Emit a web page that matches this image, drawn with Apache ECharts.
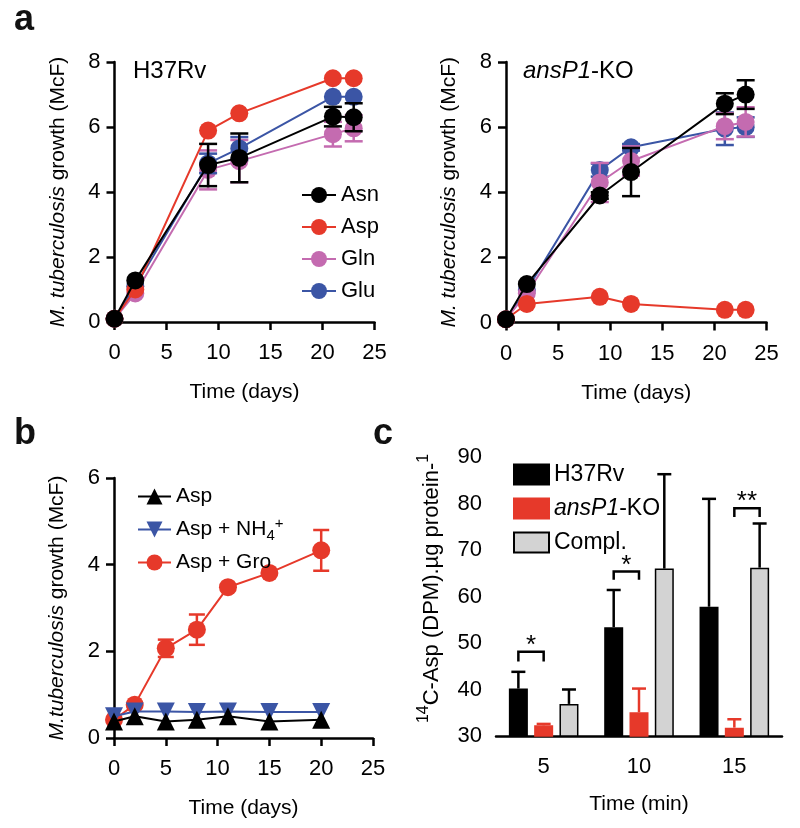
<!DOCTYPE html>
<html>
<head>
<meta charset="utf-8">
<script src="https://cdn.jsdelivr.net/npm/echarts@6/dist/echarts.min.js"></script>
<style>
  html, body { margin: 0; padding: 0; background: #fff; }
  #main { width: 800px; height: 828px; }
</style>
</head>
<body>
<div id="main"></div>
<script>
// ---- data ----
// panel a (growth on single N source), days
const daysA = [0, 2, 9, 12, 21, 23];
const wtAsn = [0.1, 1.28, 4.83, 5.05, 6.32, 6.3];
const wtAsnSd = [0, 0, 0.65, 0.75, 0.3, 0.43];
const wtAsp = [0.1, 1.0, 5.89, 6.42, 7.5, 7.5];
const wtAspSd = [0, 0, 0, 0, 0, 0];
const wtGln = [0.1, 0.88, 4.68, 4.95, 5.78, 5.96];
const wtGlnSd = [0, 0, 0.6, 0.65, 0.38, 0.4];
const wtGlu = [0.1, 1.1, 4.88, 5.34, 6.93, 6.93];
const wtGluSd = [0, 0, 0.3, 0.35, 0, 0];

const koAsn = [0.1, 1.18, 3.9, 4.62, 6.72, 7.0];
const koAsnSd = [0, 0, 0.1, 0.74, 0.32, 0.44];
const koAsp = [0.1, 0.57, 0.79, 0.57, 0.39, 0.39];
const koGln = [0.1, 0.9, 4.3, 4.96, 6.03, 6.16];
const koGlnSd = [0, 0, 0.6, 0.45, 0.4, 0.45];
const koGlu = [0.1, 1.0, 4.68, 5.38, 5.95, 6.0];
const koGluSd = [0, 0, 0.2, 0.1, 0.5, 0.3];

// panel b
const daysB = [0, 2, 5, 8, 11, 15, 20];
const bAsp = [0.38, 0.5, 0.38, 0.42, 0.5, 0.38, 0.42];
const bNh4 = [0.5, 0.61, 0.61, 0.6, 0.61, 0.6, 0.6];
const bGro = [0.42, 0.77, 2.07, 2.5, 3.48, 3.81, 4.33];
const bGroSd = [0, 0, 0.2, 0.35, 0, 0, 0.47];

// panel c (uptake), minutes
const minutes = ['5', '10', '15'];
const upH37 = [40.2, 53.4, 57.8];
const upH37Sd = [3.6, 8.0, 23.2];
const upKo = [32.3, 35.1, 31.8];
const upKoSd = [0.3, 5.1, 1.8];
const upCompl = [36.9, 66.0, 66.2];
const upComplSd = [3.1, 20.3, 9.5];
// [category, bracket top, leg end, from bar, to bar, text]
const brackets = [
  [0, 48.1, 46.0, 0, 1, '*'],
  [1, 65.4, 63.6, 0, 1, '*'],
  [2, 79.0, 77.1, 1, 2, '**']
];

const RED = '#e6392a', BLUE = '#3b55a5', PINK = '#c46bb0', GREY = '#d3d3d3';
const FONT = 'Liberation Sans, Arial, sans-serif';
const BAR_W = 19, BAR_GAP = 6.3;

const axisLine = { lineStyle: { color: '#000', width: 2.5 } };
const axisTick = { inside: false, length: 8, lineStyle: { color: '#000', width: 2.5 } };
const tickLabel = { color: '#000', fontSize: 22, fontFamily: FONT };

function timeAxis(gi, max, name) {
  return {
    type: 'value', gridIndex: gi, min: 0, max: max, interval: 5,
    axisLine, axisTick, splitLine: { show: false },
    axisLabel: Object.assign({ margin: 20 }, tickLabel),
    name: name, nameLocation: 'middle', nameGap: 60,
    nameTextStyle: { color: '#000', fontSize: 21, fontFamily: FONT }
  };
}
function growthAxis(gi, max, name) {
  return {
    type: 'value', gridIndex: gi, min: 0, max: max, interval: 2,
    axisLine: Object.assign({ onZero: false }, axisLine), axisTick, splitLine: { show: false },
    axisLabel: Object.assign({ margin: 14 }, tickLabel),
    name: name, nameLocation: 'middle', nameGap: 46, nameRotate: 90,
    nameTextStyle: { color: '#000', fontSize: 21, fontFamily: FONT,
      rich: { i: { fontStyle: 'italic', fontSize: 21, fontFamily: FONT, color: '#000' } } }
  };
}

function line(name, gi, xs, ys, color, symbol, rot, z) {
  return {
    name: name, type: 'line', xAxisIndex: gi, yAxisIndex: gi, z: z,
    data: xs.map((x, i) => [x, ys[i]]),
    symbol: symbol, symbolSize: 18, symbolRotate: rot || 0, clip: false,
    lineStyle: { color: color, width: 2 },
    itemStyle: { color: color },
    emphasis: { disabled: true }, animation: false
  };
}

function errBars(gi, xs, ys, sds, color, cap, z) {
  const data = [];
  xs.forEach((x, i) => { if (sds[i] > 0) data.push([x, ys[i] - sds[i], ys[i] + sds[i]]); });
  return {
    type: 'custom', xAxisIndex: gi, yAxisIndex: gi, z: z, silent: true, animation: false,
    encode: { x: 0, y: [1, 2] }, data: data,
    renderItem(params, api) {
      const lo = api.coord([api.value(0), api.value(1)]);
      const hi = api.coord([api.value(0), api.value(2)]);
      const st = { stroke: color, lineWidth: 2.5 };
      return { type: 'group', children: [
        { type: 'line', shape: { x1: lo[0], y1: lo[1], x2: hi[0], y2: hi[1] }, style: st },
        { type: 'line', shape: { x1: lo[0] - cap / 2, y1: lo[1], x2: lo[0] + cap / 2, y2: lo[1] }, style: st },
        { type: 'line', shape: { x1: hi[0] - cap / 2, y1: hi[1], x2: hi[0] + cap / 2, y2: hi[1] }, style: st }
      ] };
    }
  };
}

function bar(name, vals, color, border) {
  return {
    name: name, type: 'bar', xAxisIndex: 3, yAxisIndex: 3, data: vals,
    barWidth: BAR_W, barGap: (BAR_GAP / BAR_W * 100) + '%', clip: true,
    itemStyle: { color: color, borderColor: border, borderWidth: 1.5 },
    emphasis: { disabled: true }, animation: false
  };
}

function barErr(vals, sds, pos, color) {
  return {
    type: 'custom', xAxisIndex: 3, yAxisIndex: 3, z: 3, silent: true, animation: false,
    encode: { x: 0, y: [1, 2] },
    data: vals.map((v, i) => [i, v, v + sds[i], pos]),
    renderItem(params, api) {
      const a = api.coord([api.value(0), api.value(1)]);
      const b = api.coord([api.value(0), api.value(2)]);
      const x = a[0] + (api.value(3) - 1) * (BAR_W + BAR_GAP);
      const st = { stroke: color, lineWidth: 2.5 };
      return { type: 'group', children: [
        { type: 'line', shape: { x1: x, y1: a[1], x2: x, y2: b[1] }, style: st },
        { type: 'line', shape: { x1: x - 7, y1: b[1], x2: x + 7, y2: b[1] }, style: st }
      ] };
    }
  };
}

const labelNames = {
  'b-Asp': 'Asp', 'b-NH4': 'Asp + NH{sub|4}{sup|+}', 'b-Gro': 'Asp + Gro',
  'ansP1-KO': '{i|ansP1}-KO'
};
const fmt = n => labelNames[n] || n;

const chart = echarts.init(document.getElementById('main'));
chart.setOption({
  backgroundColor: '#fff',
  animation: false,
  textStyle: { fontFamily: FONT },
  grid: [
    { left: 114.5, top: 62, width: 260, height: 260 },
    { left: 506, top: 62, width: 260.5, height: 260.5 },
    { left: 114, top: 478, width: 259, height: 260 },
    { left: 496, top: 457, width: 286, height: 279 }
  ],
  xAxis: [
    timeAxis(0, 25, 'Time (days)'),
    timeAxis(1, 25, 'Time (days)'),
    timeAxis(2, 25, 'Time (days)'),
    {
      type: 'category', gridIndex: 3, data: minutes,
      axisLine, axisTick: Object.assign({ alignWithLabel: true }, axisTick),
      axisLabel: Object.assign({ margin: 20 }, tickLabel),
      name: 'Time (min)', nameLocation: 'middle', nameGap: 58,
      nameTextStyle: { color: '#000', fontSize: 21, fontFamily: FONT }
    }
  ],
  yAxis: [
    growthAxis(0, 8, '{i|M. tuberculosis} growth (McF)'),
    growthAxis(1, 8, '{i|M. tuberculosis} growth (McF)'),
    growthAxis(2, 6, '{i|M.tuberculosis} growth (McF)'),
    {
      type: 'value', gridIndex: 3, min: 30, max: 90, interval: 10,
      axisLine: Object.assign({ onZero: false }, axisLine), axisTick, splitLine: { show: false },
      axisLabel: Object.assign({ margin: 14 }, tickLabel),
      name: '{sup|14}{n|C-Asp (DPM).µg protein-}{sup|1}', nameLocation: 'middle', nameGap: 48, nameRotate: 90,
      nameTextStyle: { color: '#000', fontSize: 22, fontFamily: FONT, padding: [0, 0, 0, 16],
        rich: {
          n: { fontSize: 22, fontFamily: FONT, color: '#000', lineHeight: 32, verticalAlign: 'middle' },
          sup: { fontSize: 16, fontFamily: FONT, color: '#000', lineHeight: 16, verticalAlign: 'top' }
        } }
    }
  ],
  legend: [
    {
      data: ['Asn', 'Asp', 'Gln', 'Glu'], orient: 'vertical', left: 296, top: 179,
      itemWidth: 34, itemHeight: 20, itemGap: 10, itemTextGap: 10,
      textStyle: { color: '#000', fontSize: 22, fontFamily: FONT }, selectedMode: false
    },
    {
      data: ['b-Asp', 'b-NH4', 'b-Gro'], orient: 'vertical', left: 132, top: 481,
      itemWidth: 33, itemHeight: 20, itemGap: 9, itemTextGap: 14, formatter: fmt,
      textStyle: { color: '#000', fontSize: 21, fontFamily: FONT,
        rich: {
          sub: { fontSize: 15, fontFamily: FONT, color: '#000', padding: [12, 0, 0, 0] },
          sup: { fontSize: 15, fontFamily: FONT, color: '#000', padding: [0, 0, 12, 0] }
        } },
      selectedMode: false
    },
    {
      data: ['H37Rv', 'ansP1-KO', 'Compl.'], orient: 'vertical', left: 508, top: 458,
      icon: 'rect', itemWidth: 35, itemHeight: 20, itemGap: 11, itemTextGap: 14, formatter: fmt,
      textStyle: { color: '#000', fontSize: 23, fontFamily: FONT,
        rich: { i: { fontStyle: 'italic', fontSize: 23, fontFamily: FONT, color: '#000' } } },
      selectedMode: false
    }
  ],
  graphic: [
    { type: 'text', left: 14, top: 2, style: { text: 'a', font: 'bold 36px ' + FONT, fill: '#111' } },
    { type: 'text', left: 14, top: 416, style: { text: 'b', font: 'bold 36px ' + FONT, fill: '#111' } },
    { type: 'text', left: 373, top: 416, style: { text: 'c', font: 'bold 36px ' + FONT, fill: '#111' } },
    { type: 'text', left: 133, top: 59, style: { text: 'H37Rv', font: '24px ' + FONT, fill: '#000' } },
    { type: 'text', left: 523, top: 59, style: { text: '{i|ansP1}-KO', font: '24px ' + FONT, fill: '#000',
      rich: { i: { fontStyle: 'italic', fontSize: 24, fontFamily: FONT } } } }
  ],
  series: [
    // a, H37Rv
    line('Gln', 0, daysA, wtGln, PINK, 'circle', 0, 2),
    errBars(0, daysA, wtGln, wtGlnSd, PINK, 18, 2),
    line('Glu', 0, daysA, wtGlu, BLUE, 'circle', 0, 3),
    errBars(0, daysA, wtGlu, wtGluSd, BLUE, 18, 3),
    line('Asp', 0, daysA, wtAsp, RED, 'circle', 0, 4),
    errBars(0, daysA, wtAsp, wtAspSd, RED, 18, 4),
    line('Asn', 0, daysA, wtAsn, '#000', 'circle', 0, 5),
    errBars(0, daysA, wtAsn, wtAsnSd, '#000', 18, 5),
    // a, ansP1-KO
    line('KO-Glu', 1, daysA, koGlu, BLUE, 'circle', 0, 2),
    errBars(1, daysA, koGlu, koGluSd, BLUE, 18, 2),
    line('KO-Gln', 1, daysA, koGln, PINK, 'circle', 0, 3),
    errBars(1, daysA, koGln, koGlnSd, PINK, 18, 3),
    line('KO-Asp', 1, daysA, koAsp, RED, 'circle', 0, 4),
    line('KO-Asn', 1, daysA, koAsn, '#000', 'circle', 0, 5),
    errBars(1, daysA, koAsn, koAsnSd, '#000', 18, 5),
    // b
    line('b-Gro', 2, daysB, bGro, RED, 'circle', 0, 2),
    errBars(2, daysB, bGro, bGroSd, RED, 16, 2),
    line('b-NH4', 2, daysB, bNh4, BLUE, 'triangle', 180, 3),
    line('b-Asp', 2, daysB, bAsp, '#000', 'triangle', 0, 4),
    // c
    bar('H37Rv', upH37, '#000', '#000'),
    bar('ansP1-KO', upKo, RED, RED),
    bar('Compl.', upCompl, GREY, '#000'),
    barErr(upH37, upH37Sd, 0, '#000'),
    barErr(upKo, upKoSd, 1, RED),
    barErr(upCompl, upComplSd, 2, '#000'),
    {
      type: 'custom', xAxisIndex: 3, yAxisIndex: 3, z: 4, silent: true, animation: false,
      encode: { x: 0, y: [1, 2] }, data: brackets,
      renderItem(params, api) {
        const top = api.coord([api.value(0), api.value(1)]);
        const leg = api.coord([api.value(0), api.value(2)]);
        const x1 = top[0] + (api.value(3) - 1) * (BAR_W + BAR_GAP);
        const x2 = top[0] + (api.value(4) - 1) * (BAR_W + BAR_GAP);
        return { type: 'group', children: [
          { type: 'polyline', shape: { points: [[x1, leg[1]], [x1, top[1]], [x2, top[1]], [x2, leg[1]]] },
            style: { stroke: '#000', lineWidth: 2.5, fill: null } },
          { type: 'text', style: { text: brackets[params.dataIndex][5], x: (x1 + x2) / 2, y: top[1] + 7,
            align: 'center', verticalAlign: 'bottom', font: '26px ' + FONT, fill: '#000' } }
        ] };
      }
    }
  ]
});
</script>
</body>
</html>
